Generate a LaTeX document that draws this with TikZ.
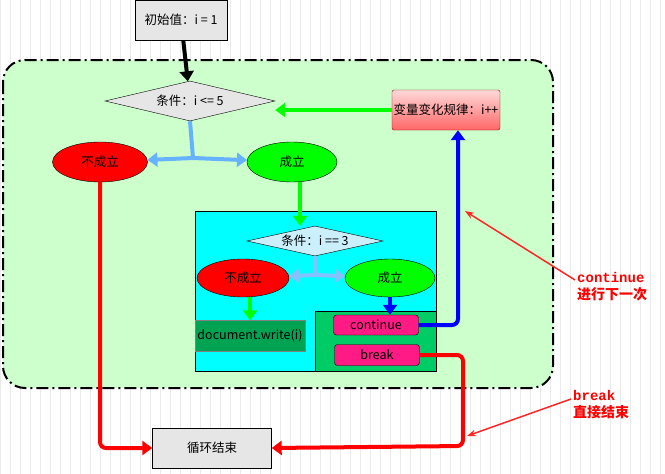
\documentclass[tikz,border=0pt]{standalone}
\usepackage{fontspec}
\setmainfont{Noto Sans CJK SC}
\setmonofont{Liberation Mono}
\usetikzlibrary{shapes.geometric,arrows.meta}
\definecolor{regbg}{HTML}{CCFFCC}
\definecolor{lgray}{HTML}{E6E6E6}
\definecolor{brblue}{HTML}{66B2FF}
\definecolor{dgreen}{HTML}{00CC66}
\definecolor{pinkbox}{HTML}{FF1A85}
\definecolor{aqua}{HTML}{00FFFF}
\definecolor{lime}{HTML}{00FF00}
\definecolor{pure}{HTML}{0000FF}
\definecolor{pured}{HTML}{FF0000}
\tikzset{
  box/.style={draw,rectangle,minimum width=#1,minimum height=40,inner sep=0pt},
  dia/.style={draw,diamond,aspect=4.3,inner sep=1pt},
  oval/.style={draw,ellipse,inner sep=0pt},
  btn/.style={draw,rounded corners=3,fill=pinkbox,inner sep=0pt},
  arr/.style={line width=4pt,-{Triangle[length=10pt,width=14pt]}},
  note/.style={pured!85!white,line width=1.5pt,-{Stealth[length=9pt]}},
}
\begin{document}
\begin{tikzpicture}[x=1pt,y=-1pt,font=\fontsize{12.5}{14}\selectfont]
  \useasboundingbox (0,0) rectangle (665,474);
  \draw[black!8,step=10] (0,0) grid (665,474);

  % loop region
  \draw[fill=regbg,line width=2pt,dash pattern=on 12pt off 4pt on 2pt off 4pt,rounded corners=22] (3,60) rectangle (553,388);
  \draw[fill=aqua] (195,211) rectangle (436,371);
  \draw[fill=dgreen] (315,311) rectangle (436,371);

  \node[box=92,fill=lgray] (init) at (181,20) {初始值：i = 1};
  \node[dia,fill=lgray,minimum width=170,minimum height=40] (cond) at (190,101) {条件：i <= 5};
  \node[oval,fill=pured,minimum width=95,minimum height=40] (no) at (100,162) {不成立};
  \node[oval,fill=lime,minimum width=90,minimum height=40] (yes) at (292,162) {成立};
  \node[box=108,minimum height=40,top color=red!15,bottom color=red!60,draw=red!60!black,rounded corners=2] (step) at (446,110) {变量变化规律：i++};

  \node[dia,fill=cyan!20,minimum width=136,minimum height=30] (cond2) at (315,241) {条件：i == 3};
  \node[oval,fill=pured,minimum width=92,minimum height=38] (no2) at (243,278) {不成立};
  \node[oval,fill=lime,minimum width=90,minimum height=38] (yes2) at (390,278) {成立};
  \node[box=110,minimum height=31,fill=dgreen!80!black,draw=gray] (write) at (250,336) {document.write(i)};
  \node[btn,minimum width=85,minimum height=20] (cont) at (376,325) {continue};
  \node[btn,minimum width=85,minimum height=21] (brk) at (377,355) {break};
  \node[box=119,fill=lgray] (end) at (212,448) {循环结束};

  % connectors
  \draw[arr] (init) -- (cond);
  \draw[arr,lime] (step.west) -- (step.west -| cond.east);
  \coordinate (split) at (193,158);
  \draw[brblue,line width=4pt] (cond.south) -- (split);
  \draw[arr,brblue] (split) -- (no);
  \draw[arr,brblue] (split) -- (yes);
  \draw[arr,lime] (yes.south -| 300,0) -- (cond2.north -| 300,0);
  \coordinate (split2) at (315,275);
  \draw[brblue!80,line width=4pt] (cond2.south) -- (split2);
  \draw[arr,brblue!80] (split2) -- (no2);
  \draw[arr,brblue!80] (split2) -- (yes2);
  \draw[arr,lime] (no2.south -| write.north) -- (write);
  \draw[arr,pure] (yes2) -- (cont.north -| yes2);
  \draw[arr,pure,rounded corners=6] (cont.east) -| (458,130) -- (step.south -| 458,0);
  \draw[arr,pured,rounded corners=6] (no.south) |- (end.west);
  \draw[arr,pured,rounded corners=6] (brk.east) -| (463,446) -- (end.east);

  % notes
  \node[anchor=north west,pured,align=left,font=\bfseries\fontsize{14}{17}\selectfont,inner sep=0pt] (ncont) at (577,272) {\ttfamily continue\\进行下一次};
  \node[anchor=north west,pured,align=left,font=\bfseries\fontsize{14}{17}\selectfont,inner sep=0pt] (nbrk) at (573,390) {\ttfamily break\\直接结束};
  \draw[note] (ncont.north west) ++(-2,8) -- (465,211);
  \draw[note] (nbrk.north west) ++(-2,9) -- (467,436);
\end{tikzpicture}
\end{document}
